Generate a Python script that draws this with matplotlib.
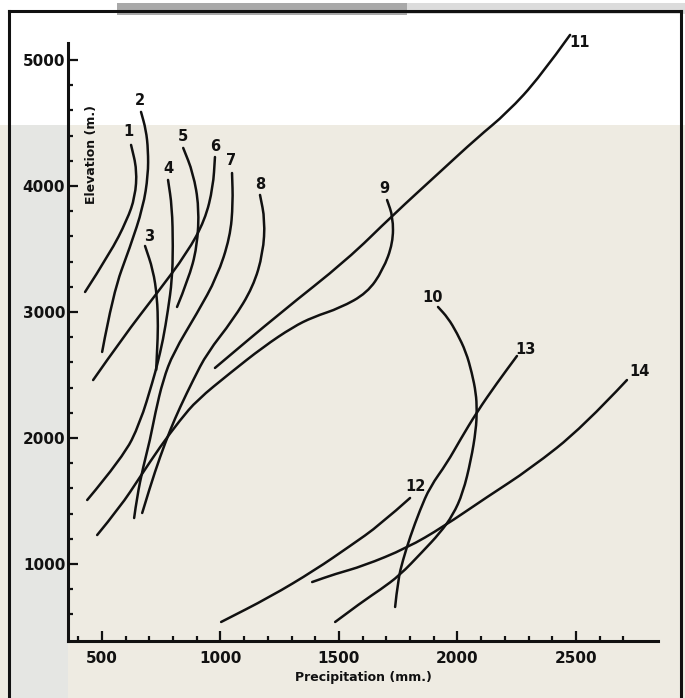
import matplotlib
matplotlib.use("Agg")
import matplotlib.pyplot as plt
from matplotlib.patches import Rectangle, PathPatch
from matplotlib.path import Path
from matplotlib.lines import Line2D
from matplotlib.ticker import FixedLocator

plt.rcParams["font.family"] = ["DejaVu Sans"]
plt.rcParams["font.weight"] = "bold"

# ---- precipitation (mm) / elevation (m) traces, one pair per numbered line ----
c1_precip = [623, 648, 640, 606, 535, 429]
c1_elev = [4326, 4127, 3913, 3730, 3468, 3159]

c2_precip = [665, 686, 695, 695, 674, 619, 547, 501]
c2_elev = [4588, 4445, 4286, 4088, 3833, 3516, 3151, 2683]

c3_precip = [682, 716, 733, 737, 733, 729]
c3_elev = [3524, 3333, 3119, 2881, 2699, 2540]

c4_precip = [779, 796, 800, 796, 779, 758, 733, 716, 661, 590, 438]
c4_elev = [4048, 3833, 3516, 3254, 3016, 2778, 2579, 2460, 2119, 1849, 1508]

c5_precip = [843, 885, 910, 902, 864, 817]
c5_elev = [4302, 4103, 3833, 3516, 3254, 3040]

c6_precip = [977, 969, 935, 859, 733, 590, 463]
c6_elev = [4230, 3992, 3730, 3468, 3151, 2802, 2460]

c7_precip = [1049, 1053, 1041, 986, 902, 801, 758, 725, 703, 674, 648, 636]
c7_elev = [4103, 3865, 3595, 3278, 2992, 2675, 2460, 2198, 1984, 1770, 1532, 1365]

c8_precip = [1167, 1188, 1180, 1138, 1053, 944, 885, 830, 788, 745, 703, 670]
c8_elev = [3929, 3730, 3468, 3199, 2937, 2675, 2460, 2246, 2064, 1849, 1611, 1405]

c9_precip = [1703, 1728, 1728, 1686, 1619, 1505, 1391, 1306, 1180, 1041,
             902, 830, 745, 661, 577, 480]
c9_elev = [3889, 3754, 3548, 3334, 3151, 3032, 2960, 2881, 2722, 2516,
           2302, 2143, 1929, 1691, 1452, 1230]

c10_precip = [1918, 1960, 1998, 2036, 2061, 2078, 2082, 2078, 2057, 2023,
              1981, 1926, 1851, 1758, 1673, 1602, 1484]
c10_elev = [3040, 2953, 2833, 2683, 2516, 2357, 2222, 2064, 1825, 1564,
            1389, 1246, 1095, 913, 794, 706, 540]

c11_precip = [977, 1252, 1534, 1728, 1926, 2082, 2209, 2348, 2475]
c11_elev = [2556, 2992, 3413, 3770, 4111, 4381, 4580, 4865, 5199]

c12_precip = [1003, 1209, 1399, 1547, 1673, 1800]
c12_elev = [540, 738, 952, 1143, 1310, 1524]

c13_precip = [2251, 2167, 2082, 2011, 1956, 1884, 1842, 1800, 1770, 1749, 1737]
c13_elev = [2651, 2437, 2206, 1984, 1802, 1611, 1429, 1214, 1032, 873, 659]

c14_precip = [1387, 1484, 1602, 1787, 1939, 2125, 2306, 2530, 2715]
c14_elev = [857, 921, 984, 1127, 1294, 1532, 1754, 2087, 2460]

# ---- line numbers and where they are written ----
curve_labels = ["1", "2", "3", "4", "5", "6", "7", "8", "9", "10", "11", "12", "13", "14"]
label_precip = [612, 661, 699, 779, 843, 977, 1045, 1167, 1690, 1893, 2517, 1825, 2289, 2770]
label_elev = [4429, 4675, 3603, 4135, 4389, 4310, 4199, 4008, 3984, 3119, 5135, 1619, 2699, 2524]

# ---- axis ticks ----
x_major = [500, 1000, 1500, 2000, 2500]
x_minor = [400, 600, 700, 800, 900, 1100, 1200, 1300, 1400, 1600, 1700, 1800,
           1900, 2100, 2200, 2300, 2400, 2600, 2700]
y_major = [1000, 2000, 3000, 4000, 5000]
y_minor = [600, 800, 1200, 1400, 1600, 1800, 2200, 2400, 2600, 2800, 3200, 3400,
           3600, 3800, 4200, 4400, 4600, 4800]

curves = [
    (c1_precip, c1_elev), (c2_precip, c2_elev), (c3_precip, c3_elev),
    (c4_precip, c4_elev), (c5_precip, c5_elev), (c6_precip, c6_elev),
    (c7_precip, c7_elev), (c8_precip, c8_elev), (c9_precip, c9_elev),
    (c10_precip, c10_elev), (c11_precip, c11_elev), (c12_precip, c12_elev),
    (c13_precip, c13_elev), (c14_precip, c14_elev),
]

W, H = 685, 698
fig = plt.figure(figsize=(W / 100, H / 100), dpi=100)
paper = "#eeebe2"
fig.patch.set_facecolor(paper)


def fx(px):
    return px / W


def fy(py):
    return 1 - py / H


# paper tones
fig.add_artist(Rectangle((0, fy(125)), 1, 1 - fy(125), transform=fig.transFigure,
                         facecolor="white", edgecolor="none", zorder=-10))
fig.add_artist(Rectangle((fx(10), fy(H)), fx(58), fy(125) - fy(H), transform=fig.transFigure,
                         facecolor="#e5e6e3", edgecolor="none", zorder=-9))
fig.add_artist(Rectangle((fx(117), fy(15)), fx(290), fy(3) - fy(15), transform=fig.transFigure,
                         facecolor="#a9a9a9", edgecolor="none", zorder=-8))
fig.add_artist(Rectangle((fx(407), fy(14)), fx(278), fy(3) - fy(14), transform=fig.transFigure,
                         facecolor="#dcdcdc", edgecolor="none", zorder=-8))

# outer frame
for xs, ys in [((9, 9), (11, H)), ((9, 681), (11, 11)), ((681, 681), (11, H))]:
    fig.add_artist(Line2D([fx(x) for x in xs], [fy(y) for y in ys], transform=fig.transFigure,
                          color="#111111", linewidth=2.2, solid_capstyle="projecting"))

# axes placed so the spines sit where the drawing has them
ax = fig.add_axes([fx(68), fy(641), fx(658) - fx(68), fy(30) - fy(641)])
ax.set_facecolor("none")
ax.set_xlim(357, 2846)
ax.set_ylim(389, 5238)


def smooth_path(xs, ys):
    """Quadratic-Bezier path: interior readings act as control points."""
    verts = [(xs[0], ys[0])]
    codes = [Path.MOVETO]
    n = len(xs)
    if n > 2:
        verts.append(((xs[0] + xs[1]) / 2, (ys[0] + ys[1]) / 2))
        codes.append(Path.LINETO)
        for i in range(1, n - 1):
            if i < n - 2:
                end = ((xs[i] + xs[i + 1]) / 2, (ys[i] + ys[i + 1]) / 2)
            else:
                end = (xs[i + 1], ys[i + 1])
            verts += [(xs[i], ys[i]), end]
            codes += [Path.CURVE3, Path.CURVE3]
    else:
        verts.append((xs[-1], ys[-1]))
        codes.append(Path.LINETO)
    return Path(verts, codes)


for px, el in curves:
    ax.add_patch(PathPatch(smooth_path(px, el), facecolor="none", edgecolor="#111111",
                           linewidth=1.8, capstyle="round", joinstyle="round"))

for lab, xp, ye in zip(curve_labels, label_precip, label_elev):
    ax.text(xp, ye, lab, ha="center", va="center", fontsize=10.5,
            fontweight="bold", color="#111111")

for side in ("top", "right"):
    ax.spines[side].set_visible(False)
for side in ("left", "bottom"):
    ax.spines[side].set_linewidth(2.2)
    ax.spines[side].set_color("#111111")
ax.spines["left"].set_bounds(389, 5135)

ax.xaxis.set_major_locator(FixedLocator(x_major))
ax.xaxis.set_minor_locator(FixedLocator(x_minor))
ax.yaxis.set_major_locator(FixedLocator(y_major))
ax.yaxis.set_minor_locator(FixedLocator(y_minor))
ax.set_xticklabels([str(v) for v in x_major])
ax.set_yticklabels([str(v) for v in y_major])

ax.tick_params(axis="both", which="major", direction="in", length=7, width=1.6,
               color="#111111", labelsize=11, labelcolor="#111111")
ax.tick_params(axis="both", which="minor", direction="in", length=3.8, width=1.6,
               color="#111111")
ax.tick_params(axis="x", which="major", pad=7)
ax.tick_params(axis="y", which="major", pad=2)

ax.set_xlabel("Precipitation (mm.)", fontsize=9, fontweight="bold", color="#111111",
              labelpad=4)
fig.text(fx(92), fy(154), "Elevation (m.)", rotation=90, ha="center", va="center",
         fontsize=9, fontweight="bold", color="#111111")

fig.savefig("out.png", dpi=100, facecolor=fig.get_facecolor())
